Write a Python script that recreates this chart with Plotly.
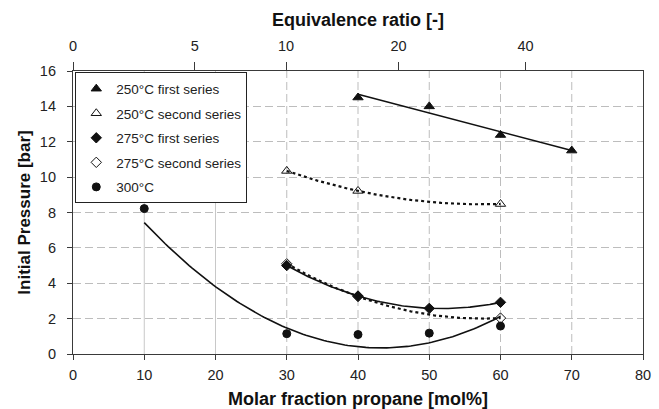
import numpy as np
import plotly.graph_objects as go

# Molar fraction of propane [mol%] and initial pressure [bar] for each series
x_250_first = [40, 50, 60, 70]
p_250_first = [14.5, 14.0, 12.38, 11.5]

x_250_second = [30, 40, 60]
p_250_second = [10.35, 9.22, 8.48]

x_275_first = [30, 40, 50, 60]
p_275_first = [5.0, 3.28, 2.58, 2.92]

x_275_second = [30, 40, 60]
p_275_second = [5.1, 3.25, 2.03]

x_300 = [10, 30, 40, 50, 60]
p_300 = [8.22, 1.15, 1.1, 1.18, 1.58]

# Quadratic trendline of the 300 °C series (highest power first)
trend_300 = [0.0064, -0.554, 12.33]

# Bottom axis ticks (molar fraction) and top axis ticks (equivalence ratio)
x_ticks = [0, 10, 20, 30, 40, 50, 60, 70, 80]
phi_labels = ["0", "5", "10", "20", "40"]
phi_positions = [0, 17.1, 29.9, 45.7, 63.5]
y_ticks = [0, 2, 4, 6, 8, 10, 12, 14, 16]

# Vertical grid lines
grid_solid_x = [10, 20]
grid_dashed_x = [30, 40, 50, 60, 70]

FONT = "Liberation Sans, Arial, sans-serif"
INK = "#111111"
AXIS = "#3a3a3a"
GRID = "#bdbdbd"
TICK_FONT = dict(family=FONT, size=14.5, color="#222222")


def fit_curve(x, y, deg):
    xs = np.linspace(min(x), max(x), 120)
    return xs, np.polyval(np.polyfit(x, y, deg), xs)


fig = go.Figure()

# Trend lines (drawn under the markers)
trend_specs = [
    (fit_curve(x_250_first, p_250_first, 1), "solid", 1.6),
    (fit_curve(x_250_second, p_250_second, 2), "3px,3px", 2.2),
    (fit_curve(x_275_first, p_275_first, 2), "solid", 1.6),
    (fit_curve(x_275_second, p_275_second, 2), "3px,3px", 2.2),
]
xs300 = np.linspace(min(x_300), max(x_300), 120)
trend_specs.append(((xs300, np.polyval(trend_300, xs300)), "solid", 1.6))

for (xs, ys), dash, width in trend_specs:
    fig.add_trace(go.Scatter(
        x=xs, y=ys, mode="lines",
        line=dict(color=INK, width=width, dash=dash),
        showlegend=False, hoverinfo="skip",
    ))

# Measured points
series = [
    ("250°C first series", x_250_first, p_250_first, "triangle-up", 9),
    ("250°C second series", x_250_second, p_250_second, "triangle-up-open", 9),
    ("275°C first series", x_275_first, p_275_first, "diamond", 8),
    ("275°C second series", x_275_second, p_275_second, "diamond-open", 8),
    ("300°C", x_300, p_300, "circle", 8),
]
for name, xs, ys, sym, size in series:
    fig.add_trace(go.Scatter(
        x=xs, y=ys, mode="markers", name=name, legendgroup=name,
        marker=dict(symbol=sym, size=size, color=INK,
                    line=dict(color=INK, width=1)),
    ))

# Invisible trace anchoring the equivalence-ratio axis
fig.add_trace(go.Scatter(
    x=phi_positions, y=[None] * len(phi_positions), xaxis="x2",
    mode="markers", showlegend=False, hoverinfo="skip",
))

shapes = []
for gx in grid_solid_x:
    shapes.append(dict(type="line", xref="x", yref="y domain", x0=gx, x1=gx,
                       y0=0, y1=1, layer="below",
                       line=dict(color="#c8c8c8", width=1)))
for gx in grid_dashed_x:
    shapes.append(dict(type="line", xref="x", yref="y domain", x0=gx, x1=gx,
                       y0=0, y1=1, layer="below",
                       line=dict(color=GRID, width=1, dash="8px,4px")))

fig.update_layout(
    width=659, height=409,
    margin=dict(l=73, r=16, t=71, b=55),
    paper_bgcolor="white", plot_bgcolor="white",
    font=dict(family=FONT, size=14, color="#222222"),
    shapes=shapes,
    showlegend=True,
    legend=dict(
        x=0.004, y=0.995, xanchor="left", yanchor="top",
        bgcolor="white", bordercolor="#222222", borderwidth=1,
        font=dict(family=FONT, size=13.5, color="#222222"),
        tracegroupgap=4, itemwidth=30,
    ),
    xaxis=dict(
        range=[0, 80], tickvals=x_ticks, showgrid=False, zeroline=False,
        showline=True, linecolor=AXIS, linewidth=1.2, automargin=False,
        ticks="outside", ticklen=5, tickcolor=AXIS, tickwidth=1.2,
        ticklabelstandoff=2, tickfont=TICK_FONT,
        title=dict(text="<b>Molar fraction propane [mol%]</b>",
                   font=dict(family=FONT, size=18, color=INK), standoff=10),
    ),
    xaxis2=dict(
        overlaying="x", side="top", range=[0, 80],
        tickvals=phi_positions, ticktext=phi_labels,
        showgrid=False, zeroline=False, automargin=False,
        showline=True, linecolor=AXIS, linewidth=1.2,
        ticks="outside", ticklen=8, tickcolor=AXIS, tickwidth=1.2,
        ticklabelstandoff=5, tickfont=TICK_FONT,
        title=dict(text="<b>Equivalence ratio [-]</b>",
                   font=dict(family=FONT, size=18, color=INK), standoff=6),
    ),
    yaxis=dict(
        range=[0, 16], tickvals=y_ticks, zeroline=False, automargin=False,
        showgrid=True, gridcolor=GRID, gridwidth=1, griddash="8px,4px",
        showline=True, mirror=True, linecolor=AXIS, linewidth=1.2,
        ticks="outside", ticklen=5, tickcolor=AXIS, tickwidth=1.2,
        ticklabelstandoff=8, tickfont=TICK_FONT,
        title=dict(text="<b>Initial Pressure [bar]</b>",
                   font=dict(family=FONT, size=17, color=INK), standoff=4),
    ),
)

fig.write_html("out.html")
